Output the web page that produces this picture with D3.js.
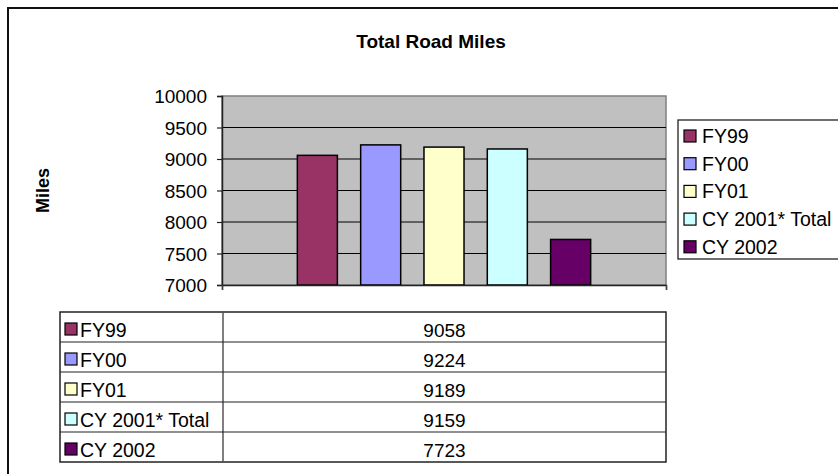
<!DOCTYPE html>
<style>
    body { margin: 0; background: #fff; }
    svg text { font-family: "Liberation Sans", Arial, sans-serif; fill: #000; }
    .grid line { stroke: #000; stroke-width: 1px; }
    .bar { stroke: #000; stroke-width: 1.5px; }
</style>
<body>
<script src="https://d3js.org/d3.v7.min.js"></script>
<script>
    // chart data
    var seriesNames = ["FY99", "FY00", "FY01", "CY 2001* Total", "CY 2002"];
    var seriesValues = [9058, 9224, 9189, 9159, 7723];
    var seriesColors = ["#993366", "#9999FF", "#FFFFCC", "#CCFFFF", "#660066"];
    var yTicks = [7000, 7500, 8000, 8500, 9000, 9500, 10000];
    var titleText = "Total Road Miles";
    var yTitle = "Miles";

    var width = 838, height = 474;
    var plot = {left: 222, top: 96, right: 666, bottom: 285};

    var svg = d3.select("body").append("svg")
        .attr("width", width)
        .attr("height", height);

    svg.append("rect").attr("width", width).attr("height", height).attr("fill", "#fff");

    // chart area border (right & bottom run off the picture)
    svg.append("rect")
        .attr("x", 8).attr("y", 8)
        .attr("width", 900).attr("height", 600)
        .attr("fill", "none").attr("stroke", "#111").attr("stroke-width", 2);

    var y = d3.scaleLinear()
        .domain([7000, 10000])
        .range([plot.bottom, plot.top]);

    var x = d3.scaleBand()
        .domain(seriesNames)
        .range([plot.left, plot.right])
        .paddingInner(0.3676)
        .paddingOuter(1.19);

    // plot background
    svg.append("rect")
        .attr("x", plot.left).attr("y", plot.top)
        .attr("width", plot.right - plot.left).attr("height", plot.bottom - plot.top)
        .attr("fill", "#C0C0C0").attr("stroke", "#808080").attr("stroke-width", 1.5);

    // gridlines
    svg.append("g").attr("class", "grid")
        .selectAll("line")
        .data(yTicks.filter(function(d) { return d > 7000 && d < 10000; }))
        .enter().append("line")
          .attr("x1", plot.left).attr("x2", plot.right)
          .attr("y1", function(d) { return y(d); })
          .attr("y2", function(d) { return y(d); });

    // bars
    svg.append("g")
        .selectAll("rect")
        .data(seriesValues)
        .enter().append("rect")
          .attr("class", "bar")
          .attr("x", function(d, i) { return x(seriesNames[i]); })
          .attr("y", function(d) { return y(d); })
          .attr("width", x.bandwidth())
          .attr("height", function(d) { return plot.bottom - y(d); })
          .attr("fill", function(d, i) { return seriesColors[i]; });

    // y axis
    var yAxis = d3.axisLeft(y).tickValues(yTicks).tickSize(5).tickPadding(10).tickFormat(d3.format("d"));
    var yg = svg.append("g")
        .attr("transform", "translate(" + plot.left + ",0)")
        .call(yAxis);
    yg.select(".domain").attr("stroke", "#222").attr("stroke-width", 1.5);
    yg.selectAll(".tick line").attr("stroke", "#222").attr("stroke-width", 1.2);
    yg.selectAll("text").style("font-size", "19px").attr("dy", "0.35em");

    // x axis (single category, ticks at both ends)
    var xAxisScale = d3.scaleLinear().domain([0, 1]).range([plot.left, plot.right]);
    var xg = svg.append("g")
        .attr("transform", "translate(0," + plot.bottom + ")")
        .call(d3.axisBottom(xAxisScale).tickValues([0, 1]).tickSize(5).tickFormat(""));
    xg.select(".domain").attr("stroke", "#222").attr("stroke-width", 1.5);
    xg.selectAll(".tick line").attr("stroke", "#444").attr("stroke-width", 1.2);

    // titles
    svg.append("text")
        .attr("x", 431).attr("y", 48)
        .attr("text-anchor", "middle")
        .style("font-size", "19px").style("font-weight", "bold")
        .text(titleText);

    svg.append("text")
        .attr("transform", "translate(49," + ((plot.top + plot.bottom) / 2) + ") rotate(-90)")
        .attr("text-anchor", "middle")
        .style("font-size", "18px").style("font-weight", "bold")
        .text(yTitle);

    // legend
    var legend = {x: 678, y: 120, rowStep: 27.7, firstRow: 136};
    svg.append("rect")
        .attr("x", legend.x).attr("y", legend.y)
        .attr("width", 400).attr("height", 139)
        .attr("fill", "#fff").attr("stroke", "#222").attr("stroke-width", 1.3);
    var lg = svg.append("g").selectAll("g")
        .data(seriesNames)
        .enter().append("g")
          .attr("transform", function(d, i) {
              return "translate(" + legend.x + "," + (legend.firstRow + i * legend.rowStep) + ")";
          });
    lg.append("rect")
        .attr("x", 6).attr("y", -6).attr("width", 12).attr("height", 12)
        .attr("stroke", "#000").attr("stroke-width", 1.2)
        .attr("fill", function(d, i) { return seriesColors[i]; });
    lg.append("text")
        .attr("x", 24).attr("y", 7)
        .style("font-size", "19.5px")
        .text(function(d) { return d; });

    // data table
    var table = {left: 60, mid: 223, right: 666, top: 312, rowH: 30};
    var tg = svg.append("g");
    tg.append("rect")
        .attr("x", table.left).attr("y", table.top)
        .attr("width", table.right - table.left).attr("height", table.rowH * seriesNames.length)
        .attr("fill", "#fff").attr("stroke", "#222").attr("stroke-width", 1.5);
    tg.append("line")
        .attr("x1", table.mid).attr("x2", table.mid)
        .attr("y1", table.top).attr("y2", table.top + table.rowH * seriesNames.length)
        .attr("stroke", "#555").attr("stroke-width", 1.5);
    tg.selectAll(".rowline")
        .data(d3.range(1, seriesNames.length))
        .enter().append("line")
          .attr("class", "rowline")
          .attr("x1", table.left).attr("x2", table.right)
          .attr("y1", function(d) { return table.top + d * table.rowH; })
          .attr("y2", function(d) { return table.top + d * table.rowH; })
          .attr("stroke", "#222").attr("stroke-width", 1.2);
    var rows = tg.selectAll(".row")
        .data(seriesNames)
        .enter().append("g")
          .attr("class", "row")
          .attr("transform", function(d, i) {
              return "translate(0," + (table.top + i * table.rowH + table.rowH / 2) + ")";
          });
    rows.append("rect")
        .attr("x", table.left + 5).attr("y", -4).attr("width", 12).attr("height", 12)
        .attr("stroke", "#000").attr("stroke-width", 1.2)
        .attr("fill", function(d, i) { return seriesColors[i]; });
    rows.append("text")
        .attr("x", table.left + 20).attr("y", 10)
        .style("font-size", "19.5px")
        .text(function(d) { return d; });
    rows.append("text")
        .attr("x", (table.mid + table.right) / 2).attr("y", 10)
        .attr("text-anchor", "middle")
        .style("font-size", "19px")
        .text(function(d, i) { return seriesValues[i]; });
</script>
</body>
